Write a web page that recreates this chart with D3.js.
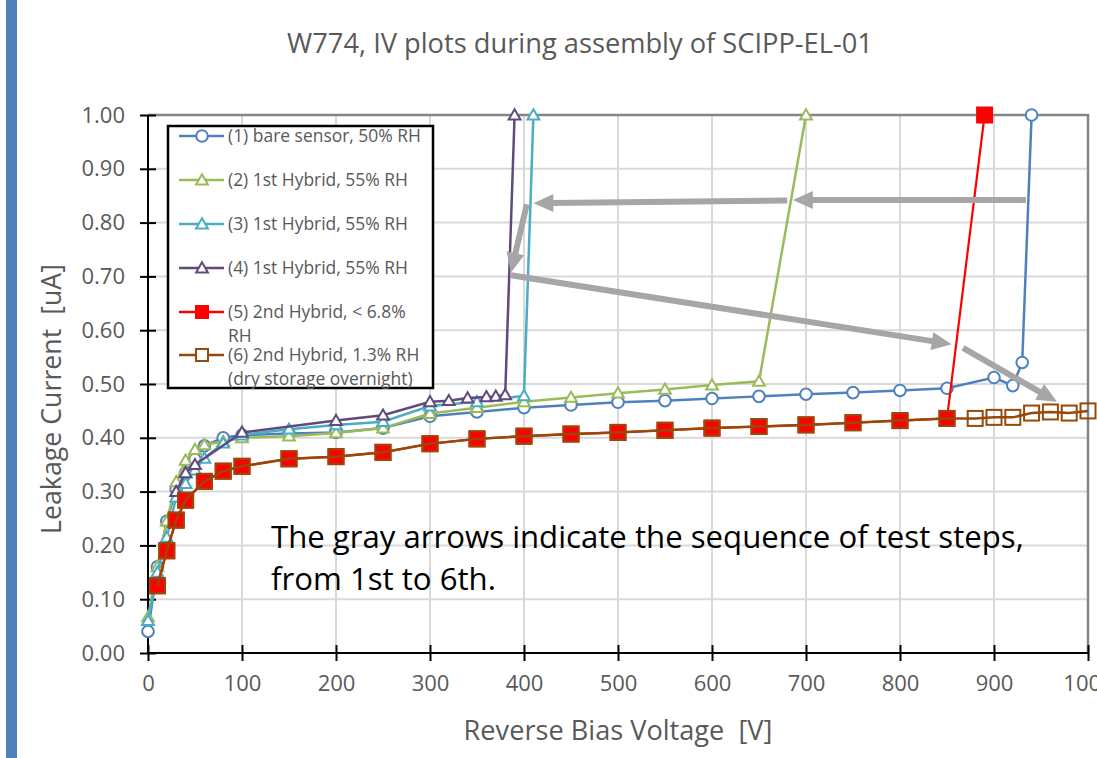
<!DOCTYPE html>
<html>
<head>
<meta charset="utf-8">
<script src="https://cdn.jsdelivr.net/npm/d3@7"></script>
<style>
  body { margin: 0; background: #fff; }
  svg { display: block; font-family: "Open Sans", "Noto Sans", sans-serif; }
</style>
</head>
<body>
<svg id="chart" width="1097" height="758"></svg>
<script>
// ---- data ----
const v1 = [0,10,20,30,40,50,60,80,100,150,200,250,300,350,400,450,500,550,600,650,700,750,800,850,900,920,930,940];
const i1 = [0.04,0.16,0.245,0.305,0.335,0.36,0.385,0.40,0.405,0.408,0.41,0.418,0.44,0.448,0.456,0.461,0.466,0.469,0.473,0.477,0.481,0.484,0.488,0.492,0.512,0.497,0.54,1.0];

const v2 = [0,10,20,30,40,50,60,80,100,150,200,250,300,350,400,450,500,550,600,650,700];
const i2 = [0.067,0.16,0.245,0.318,0.358,0.378,0.387,0.393,0.40,0.403,0.409,0.418,0.445,0.456,0.467,0.475,0.483,0.49,0.498,0.505,1.0];

const v3 = [0,10,20,30,40,50,60,80,100,150,200,250,300,350,400,410];
const i3 = [0.06,0.15,0.215,0.29,0.315,0.34,0.362,0.39,0.405,0.416,0.424,0.43,0.459,0.467,0.478,1.0];

const v4 = [30,40,50,100,200,250,300,320,340,360,370,380,390];
const i4 = [0.30,0.335,0.35,0.41,0.432,0.442,0.467,0.469,0.474,0.476,0.477,0.48,1.0];

const v5 = [10,20,30,40,60,80,100,150,200,250,300,350,400,450,500,550,600,650,700,750,800,850,890];
const i5 = [0.125,0.19,0.247,0.284,0.319,0.338,0.347,0.361,0.365,0.373,0.389,0.398,0.403,0.407,0.41,0.414,0.418,0.421,0.424,0.428,0.432,0.436,1.0];

const v6 = [10,20,30,40,60,80,100,150,200,250,300,350,400,450,500,550,600,650,700,750,800,850,880,900,920,940,960,980,1000];
const i6 = [0.125,0.19,0.247,0.284,0.319,0.338,0.347,0.361,0.365,0.373,0.389,0.398,0.403,0.407,0.41,0.414,0.418,0.421,0.424,0.428,0.432,0.436,0.436,0.438,0.438,0.446,0.448,0.446,0.45];

const seriesNames = [
  ["(1) bare sensor, 50% RH"],
  ["(2) 1st Hybrid, 55% RH"],
  ["(3) 1st Hybrid, 55% RH"],
  ["(4) 1st Hybrid, 55% RH"],
  ["(5) 2nd Hybrid, < 6.8%", "RH"],
  ["(6) 2nd Hybrid, 1.3% RH", "(dry storage overnight)"]
];

// gray step arrows: [V0, I0, V1, I1]
const arrows = [
  [934, 0.842, 686, 0.842],
  [680, 0.841, 410, 0.836],
  [403, 0.834, 386, 0.707],
  [386, 0.702, 855, 0.574],
  [867, 0.567, 967, 0.467]
];

const xTicks = d3.range(0, 1001, 100);
const yTicks = d3.range(0, 1.001, 0.1);

const titleText = "W774, IV plots during assembly of SCIPP-EL-01";
const xLabel = "Reverse Bias Voltage  [V]";
const yLabel = "Leakage Current  [uA]";
const noteLines = ["The gray arrows indicate the sequence of test steps,", "from 1st to 6th."];

// ---- setup ----
const svg = d3.select("#chart");
const textGray = "#595959";

const x = d3.scaleLinear().domain([0, 1000]).range([148, 1088]);
const y = d3.scaleLinear().domain([0, 1]).range([653, 115]);

// scale font so the text spans a given width
function fit(sel, w) {
  const len = sel.node().getComputedTextLength();
  const fs = parseFloat(sel.attr("font-size"));
  sel.attr("font-size", fs * w / len);
  return sel;
}

// left accent bar
svg.append("rect").attr("x", 6).attr("y", 0).attr("width", 11).attr("height", 758).attr("fill", "#4f81bd");

// title
fit(svg.append("text").attr("x", 580).attr("y", 53).attr("text-anchor", "middle")
  .attr("font-size", 22).attr("fill", textGray).text(titleText), 586);

// gridlines
svg.append("g").selectAll("line").data(yTicks.slice(1)).join("line")
  .attr("x1", x(0)).attr("x2", x(1000)).attr("y1", d => y(d)).attr("y2", d => y(d))
  .attr("stroke", "#d9d9d9").attr("stroke-width", 2);
svg.append("g").selectAll("line").data(xTicks.slice(1)).join("line")
  .attr("x1", d => x(d)).attr("x2", d => x(d)).attr("y1", y(0)).attr("y2", y(1))
  .attr("stroke", "#d9d9d9").attr("stroke-width", 2);

// plot border top/right
svg.append("path")
  .attr("d", `M${x(0)},${y(1)}H${x(1000)}V${y(0)}`)
  .attr("fill", "none").attr("stroke", "#858585").attr("stroke-width", 2.5);

// axes
const yAxis = svg.append("g").attr("transform", `translate(${x(0)},0)`)
  .call(d3.axisLeft(y).tickValues(yTicks).tickFormat(d3.format(".2f")).tickSize(8).tickPadding(15));
const xAxis = svg.append("g").attr("transform", `translate(0,${y(0)})`)
  .call(d3.axisBottom(x).tickValues(xTicks).tickFormat(d3.format("d")).tickSize(8).tickPadding(20));

[yAxis, xAxis].forEach(g => {
  g.select(".domain").attr("stroke", "#000").attr("stroke-width", 2);
  g.selectAll(".tick line").attr("stroke", "#000").attr("stroke-width", 2);
  g.selectAll(".tick text").attr("fill", textGray).attr("font-family", "Open Sans");
});
yAxis.select(".domain").attr("d", `M0,${y(1)}V${y(0)}`);
xAxis.select(".domain").attr("d", `M${x(0)},0H${x(1000)}`);
yAxis.selectAll(".tick line").attr("x1", 8);
xAxis.selectAll(".tick line").attr("y1", -8);
yAxis.selectAll(".tick text").attr("font-size", 22).attr("x", -23);
xAxis.selectAll(".tick text").attr("font-size", 22).attr("y", 22);

// axis titles
fit(svg.append("text").attr("x", 618).attr("y", 740).attr("text-anchor", "middle")
  .attr("font-size", 22).attr("fill", textGray).attr("xml:space", "preserve").text(xLabel), 309);
fit(svg.append("text").attr("transform", "translate(61,399) rotate(-90)").attr("text-anchor", "middle")
  .attr("font-size", 22).attr("fill", textGray).attr("xml:space", "preserve").text(yLabel), 270);

// ---- series ----
const triangle = d3.symbol().type(d3.symbolTriangle).size(60);
const series = [
  { v: v1, i: i1, color: "#4f81bd", marker: "circle", fill: "#fff", lw: 2.5 },
  { v: v2, i: i2, color: "#9bbb59", marker: "tri", fill: "#fff", lw: 2.5 },
  { v: v3, i: i3, color: "#4bacc6", marker: "tri", fill: "#fff", lw: 2.5 },
  { v: v4, i: i4, color: "#604a7b", marker: "tri", fill: "#fff", lw: 2.5 },
  { v: v5, i: i5, color: "#ff0000", marker: "square", fill: "#ff0000", lw: 2.2 },
  { v: v6, i: i6, color: "#984807", marker: "square", fill: "none", lw: 2.5 }
];

const line = d3.line().x(d => x(d[0])).y(d => y(d[1]));

function drawMarker(g, s, px, py, sz) {
  if (s.marker === "circle") {
    g.append("circle").attr("cx", px).attr("cy", py).attr("r", 5.8)
      .attr("fill", s.fill).attr("stroke", s.color).attr("stroke-width", 2);
  } else if (s.marker === "tri") {
    g.append("path").attr("d", triangle()).attr("transform", `translate(${px},${py + 1})`)
      .attr("fill", s.fill).attr("stroke", s.color).attr("stroke-width", 2);
  } else {
    const h = sz || 7;
    g.append("rect").attr("x", px - h).attr("y", py - h).attr("width", 2 * h).attr("height", 2 * h)
      .attr("fill", s.fill).attr("stroke", s.color).attr("stroke-width", 2);
  }
}

series.forEach(s => {
  const pts = s.v.map((v, k) => [v, s.i[k]]);
  const g = svg.append("g");
  g.append("path").datum(pts).attr("d", line)
    .attr("fill", "none").attr("stroke", s.color).attr("stroke-width", s.lw);
  pts.forEach(p => drawMarker(g, s, x(p[0]), y(p[1]), s.marker === "square" ? 7.5 : null));
});

// ---- legend ----
const lg = svg.append("g");
lg.append("rect").attr("x", 168).attr("y", 126).attr("width", 265).attr("height", 262)
  .attr("fill", "#fff").attr("stroke", "#000").attr("stroke-width", 2.5);
const rowY = [136, 180, 224, 268, 312, 355];
let legendSize = null;
series.forEach((s, k) => {
  const cy = rowY[k];
  lg.append("line").attr("x1", 179).attr("x2", 224).attr("y1", cy).attr("y2", cy)
    .attr("stroke", s.color).attr("stroke-width", 2.5);
  drawMarker(lg, s.marker === "square" && s.fill === "none" ? { ...s, fill: "#fff" } : s, 202, cy, 6);
  seriesNames[k].forEach((t, j) => {
    const tx = lg.append("text").attr("x", 228).attr("y", cy + 6 + j * 24)
      .attr("font-size", 16).attr("fill", textGray).text(t);
    if (k === 0 && j === 0) { fit(tx, 193); legendSize = tx.attr("font-size"); }
    else tx.attr("font-size", legendSize);
  });
});

// ---- gray step arrows ----
const ag = svg.append("g");
arrows.forEach(a => {
  const x0 = x(a[0]), y0 = y(a[1]), x1 = x(a[2]), y1 = y(a[3]);
  const dx = x1 - x0, dy = y1 - y0, L = Math.hypot(dx, dy);
  const ux = dx / L, uy = dy / L, hl = 20, hw = 9;
  const bx = x1 - ux * hl, by = y1 - uy * hl;
  ag.append("line").attr("x1", x0).attr("y1", y0).attr("x2", bx + ux * 2).attr("y2", by + uy * 2)
    .attr("stroke", "#a6a6a6").attr("stroke-width", 6);
  ag.append("path")
    .attr("d", `M${x1},${y1}L${bx - uy * hw},${by + ux * hw}L${bx + uy * hw},${by - ux * hw}Z`)
    .attr("fill", "#a6a6a6");
});

// ---- annotation ----
const n1 = svg.append("text").attr("x", 271).attr("y", 548).attr("font-size", 28).attr("fill", "#000").text(noteLines[0]);
fit(n1, 753);
svg.append("text").attr("x", 271).attr("y", 590).attr("font-size", n1.attr("font-size")).attr("fill", "#000").text(noteLines[1]);
</script>
</body>
</html>
